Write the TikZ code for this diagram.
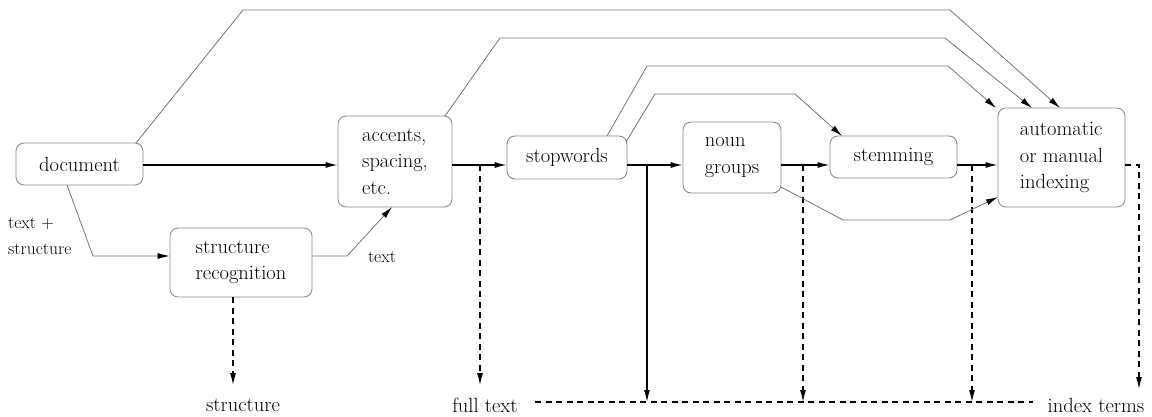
\documentclass[tikz,border=0pt]{standalone}
\usepackage{fontspec}
\usetikzlibrary{arrows.meta}
\begin{document}
\begin{tikzpicture}[x=1pt,y=-1pt,
  box/.style={draw=black!45,line width=0.9pt,rounded corners=8pt,align=left,inner sep=0pt,font=\rmfamily\fontsize{20.5}{26.5}\selectfont},
  lbl/.style={font=\rmfamily\fontsize{20.5}{24}\selectfont,inner sep=0pt},
  small/.style={font=\rmfamily\fontsize{17.5}{26}\selectfont,inner sep=0pt,align=left},
  tip/.style={-{Latex[length=12pt,width=6pt,color=black]}},
  flow/.style={draw=black,line width=1.2pt},
  gline/.style={draw=black!55,line width=0.8pt},
  dline/.style={draw=black,line width=1.2pt,dash pattern=on 6pt off 4.5pt}
]
\useasboundingbox (0,0) rectangle (1152,416);
% boxes
\node[box,minimum width=127pt,minimum height=42pt] (doc) at (79.5,164) {document};
\node[box,minimum width=114pt,minimum height=91pt] (acc) at (395,161.5) {accents,\\spacing,\\etc.};
\node[box,minimum width=142pt,minimum height=69pt] (sr) at (241,262.5) {structure\\recognition};
\node[box,minimum width=120pt,minimum height=43pt] (stop) at (567,157.5) {stopwords};
\node[box,minimum width=98pt,minimum height=71pt] (noun) at (732,157.5) {noun\\groups};
\node[box,minimum width=127pt,minimum height=42pt] (stem) at (893.5,157) {stemming};
\node[box,minimum width=127pt,minimum height=99pt] (idx) at (1061.5,157.5) {automatic\\or manual\\indexing};
% labels
\node[small,anchor=west] (ts) at (8,236) {text +\\structure};
\node[small] (tx) at (382,257) {text};
\node[lbl] (ls) at (243,405) {structure};
\node[lbl] (lf) at (485,405) {full text};
\node[lbl] (li) at (1096,405) {index terms};
% helper coordinates
\coordinate (m) at (0,165);
\coordinate (b) at (0,402);
\coordinate (f1) at (480,165);
\coordinate (f2) at (647,165);
\coordinate (f3) at (803,165);
\coordinate (f4) at (972,165);
% main flow
\draw[flow,tip] (doc.east |- m) -- (acc.west |- m);
\draw[flow,tip] (acc.east |- m) -- (stop.west |- m);
\draw[flow,tip] (stop.east |- m) -- (noun.west |- m);
\draw[flow,tip] (noun.east |- m) -- (stem.west |- m);
\draw[flow,tip] (stem.east |- m) -- (idx.west |- m);
% outputs
\draw[flow,tip] (f2) -- (f2 |- b);
\draw[dline,tip] (f1) -- (480,385);
\draw[dline,tip] (f3) -- (f3 |- b);
\draw[dline,tip] (f4) -- (f4 |- b);
\draw[dline,tip] (idx.east |- m) -- (1139,165) -- (1139,389);
\draw[dline] (535,402) -- (1033,402);
\draw[dline,tip] (sr.south -| 233,0) -- (233,385);
% bypass lines
\draw[gline,tip] (136,143) -- (243,10) -- (950,10) -- (1060,108);
\draw[gline,tip] (445,116) -- (500,38) -- (945,38) -- (1032,108);
\draw[gline,tip] (607,136) -- (647,66) -- (948,66) -- (996,108);
\draw[gline,tip] (626,142) -- (655,94) -- (795,94) -- (842,136);
\draw[gline,tip] (781,187) -- (843,220) -- (950,220) -- (998,197);
\draw[gline,tip] (67,185) -- (93,256) -- (sr.west |- 0,256);
\draw[gline,tip] (sr.east |- 0,256) -- (347,256) -- (392,207);
\end{tikzpicture}
\end{document}
